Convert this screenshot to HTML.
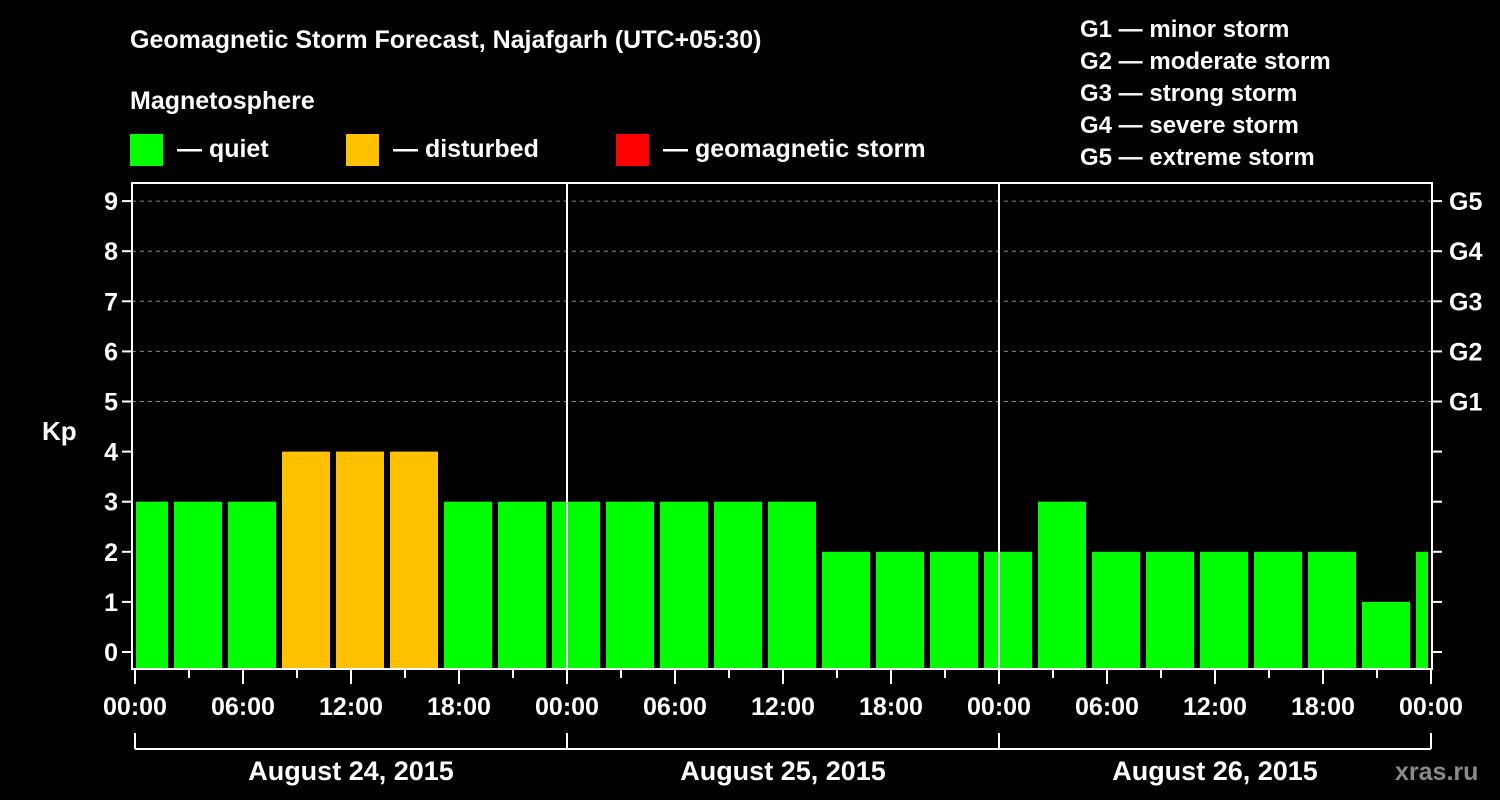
<!DOCTYPE html>
<html><head><meta charset="utf-8"><style>
html,body{margin:0;padding:0;background:#000;width:1500px;height:800px;overflow:hidden}
text{font-family:"Liberation Sans",Arial,sans-serif;font-weight:bold;fill:#fff}
</style></head><body>
<svg id="chart" width="1500" height="800" viewBox="0 0 1500 800" xmlns="http://www.w3.org/2000/svg">
<rect width="1500" height="800" fill="#000"/>
<text x="130" y="48" font-size="25">Geomagnetic Storm Forecast, Najafgarh (UTC+05:30)</text>
<text x="130" y="109" font-size="25">Magnetosphere</text>
<g><rect x="130" y="134" width="33" height="32" fill="#00ff00"/><text x="177" y="157" font-size="25">— quiet</text></g>
<g><rect x="346" y="134" width="33" height="32" fill="#ffc000"/><text x="393" y="157" font-size="25">— disturbed</text></g>
<g><rect x="616" y="134" width="33" height="32" fill="#ff0000"/><text x="663" y="157" font-size="25">— geomagnetic storm</text></g>
<g font-size="24">
<text x="1080" y="37">G1 — minor storm</text>
<text x="1080" y="69">G2 — moderate storm</text>
<text x="1080" y="101">G3 — strong storm</text>
<text x="1080" y="133">G4 — severe storm</text>
<text x="1080" y="165">G5 — extreme storm</text>
</g>
<g id="grid"></g>
<g id="bars"></g>
<g id="axes"></g>
<text x="42" y="440" font-size="26">Kp</text>
<text x="1395" y="780" font-size="25" fill="#888" style="fill:#8a8a8a">xras.ru</text>
</svg>
<script>
const kpValues=[3,3,3,4,4,4,3,3,3,3,3,3,3,2,2,2,2,3,2,2,2,2,2,1,2];
const barHours=[0.5,3.5,6.5,9.5,12.5,15.5,18.5,21.5,24.5,27.5,30.5,33.5,36.5,39.5,42.5,45.5,48.5,51.5,54.5,57.5,60.5,63.5,66.5,69.5,72.5];
const xTickLabels=["00:00","06:00","12:00","18:00","00:00","06:00","12:00","18:00","00:00","06:00","12:00","18:00","00:00"];
const dayLabels=["August 24, 2015","August 25, 2015","August 26, 2015"];
const gLabels=["G1","G2","G3","G4","G5"];
const NS="http://www.w3.org/2000/svg";
const L=132,R=1432,T=183,B=669;
const x=h=>135+h*18;
const y=k=>652-k*50.1;
function mk(tag,attrs,parent){const e=document.createElementNS(NS,tag);for(const k in attrs)e.setAttribute(k,attrs[k]);parent.appendChild(e);return e;}
const grid=document.getElementById('grid'),bars=document.getElementById('bars'),axes=document.getElementById('axes');
for(let k=5;k<=9;k++){const l=mk('line',{x1:L,x2:R,y1:y(k),y2:y(k),stroke:'#888','stroke-dasharray':'4,4','stroke-width':1},grid);

}
const col=k=>k>=5?'#ff0000':(k>=4?'#ffc000':'#00ff00');
kpValues.forEach((v,i)=>{let x0=Math.max(x(barHours[i])-24,136),x1=Math.min(x(barHours[i])+24,R-4);
const r=mk('rect',{x:x0,y:y(v),width:x1-x0,height:B-y(v),fill:col(v)},bars);

});
// day separators
[1,2].forEach(d=>{const l=mk('line',{x1:x(24*d),x2:x(24*d),y1:T,y2:B,stroke:'#fff','stroke-width':2},axes);

});
const fr=mk('rect',{x:L,y:T,width:R-L,height:B-T,fill:'none',stroke:'#fff','stroke-width':2},axes);


for(let k=0;k<=9;k++){mk('line',{x1:L-10,x2:L,y1:y(k),y2:y(k),stroke:'#fff','stroke-width':2},axes);
mk('line',{x1:R,x2:R+10,y1:y(k),y2:y(k),stroke:'#fff','stroke-width':2},axes);
const t=mk('text',{x:L-14,y:y(k)+9,'font-size':25,'text-anchor':'end'},axes);t.textContent=k;

}
gLabels.forEach((g,i)=>{const t=mk('text',{x:1449,y:y(5+i)+9,'font-size':25},axes);t.textContent=g;

});
for(let h=0;h<=72;h+=3){const maj=h%6===0;mk('line',{x1:x(h),x2:x(h),y1:B,y2:B+(maj?15:9),stroke:'#fff','stroke-width':2},axes);}
xTickLabels.forEach((s,i)=>{const t=mk('text',{x:x(i*6),y:715,'font-size':25,'text-anchor':'middle'},axes);t.textContent=s;

});
mk('line',{x1:x(0),x2:x(72),y1:749,y2:749,stroke:'#fff','stroke-width':2},axes);
for(let d=0;d<=3;d++)mk('line',{x1:x(24*d),x2:x(24*d),y1:733,y2:749,stroke:'#fff','stroke-width':2},axes);
dayLabels.forEach((s,i)=>{const t=mk('text',{x:x(24*i+12),y:780,'font-size':27,'text-anchor':'middle'},axes);t.textContent=s;

});
</script>
</body></html>
